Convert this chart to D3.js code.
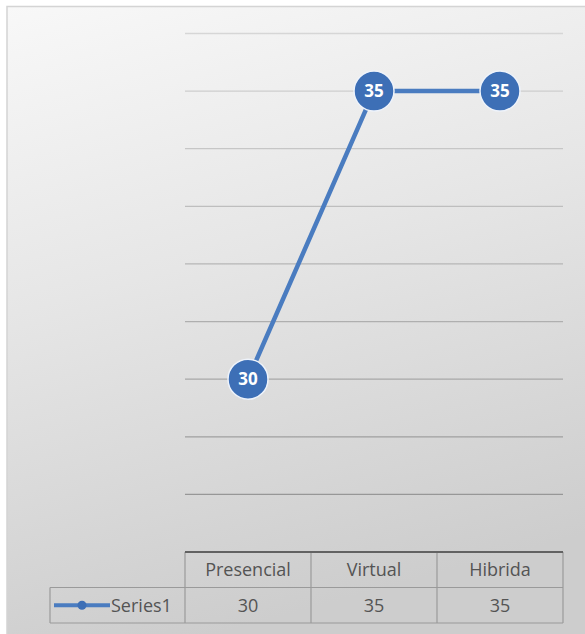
<!DOCTYPE html>
<html>
<head>
<meta charset="utf-8">
<script src="https://cdn.jsdelivr.net/npm/d3@7"></script>
<style>
  html, body { margin: 0; padding: 0; background: #ffffff; }
  svg { display: block; }
  text { font-family: "Open Sans", "Noto Sans", sans-serif; }
</style>
</head>
<body>
<svg id="chart" width="585" height="634"></svg>
<script>
// Chart data
const categories = ["Presencial", "Virtual", "Hibrida"];
const seriesName = "Series1";
const seriesValues = [30, 35, 35];
const gridValues = [28, 29, 30, 31, 32, 33, 34, 35, 36];
const valueDomain = [27, 36];

const svg = d3.select("#chart");
const W = 585, H = 634;

// Plot geometry
const plot = { left: 185, right: 563, top: 33.5, bottom: 552 };
const rowH = 35.5;
const legendLeft = 50;

const defs = svg.append("defs");
const grad = defs.append("linearGradient")
  .attr("id", "bg").attr("x1", "0").attr("y1", "0").attr("x2", "0.25").attr("y2", "1");
grad.append("stop").attr("offset", "0%").attr("stop-color", "#f8f8f8");
grad.append("stop").attr("offset", "45%").attr("stop-color", "#e6e6e6");
grad.append("stop").attr("offset", "100%").attr("stop-color", "#cdcdcd");

// Chart area with border
svg.append("rect")
  .attr("x", 7).attr("y", 6.5).attr("width", W + 10).attr("height", H + 10)
  .attr("fill", "url(#bg)").attr("stroke", "#d4d4d4").attr("stroke-width", 1.5);

const x = d3.scaleBand().domain(categories).range([plot.left, plot.right]);
const y = d3.scaleLinear().domain(valueDomain).range([plot.bottom, plot.top]);

// Horizontal gridlines, fading lighter towards the top
const gridColor = d3.scaleLinear().domain(valueDomain).range(["#8f8f8f", "#d6d6d6"]);
svg.append("g").selectAll("line").data(gridValues).join("line")
  .attr("x1", plot.left).attr("x2", plot.right)
  .attr("y1", d => y(d)).attr("y2", d => y(d))
  .attr("stroke", d => gridColor(d)).attr("stroke-width", 1.3);

// Data table under the plot
const tbl = svg.append("g").attr("stroke", "#9a9a9a").attr("stroke-width", 1.2).attr("fill", "none");
const tTop = plot.bottom, tMid = plot.bottom + rowH, tBot = plot.bottom + 2 * rowH;
tbl.append("line").attr("x1", plot.left).attr("x2", plot.right).attr("y1", tMid).attr("y2", tMid);
tbl.append("line").attr("x1", legendLeft).attr("x2", plot.right).attr("y1", tBot).attr("y2", tBot);
tbl.append("line").attr("x1", legendLeft).attr("x2", plot.left).attr("y1", tMid).attr("y2", tMid);
tbl.append("line").attr("x1", legendLeft).attr("x2", legendLeft).attr("y1", tMid).attr("y2", tBot);
const colEdges = [plot.left].concat(categories.map(c => x(c) + x.bandwidth()));
tbl.selectAll("line.v").data(colEdges).join("line").attr("class", "v")
  .attr("x1", d => d).attr("x2", d => d).attr("y1", tTop).attr("y2", tBot);
// Category axis line
svg.append("line").attr("x1", plot.left).attr("x2", plot.right)
  .attr("y1", tTop).attr("y2", tTop).attr("stroke", "#626262").attr("stroke-width", 2);

const fs = 18;
svg.append("g").selectAll("text").data(categories).join("text")
  .attr("x", d => x(d) + x.bandwidth() / 2).attr("y", tTop + rowH / 2 + 6.5)
  .attr("text-anchor", "middle").attr("font-size", fs).attr("fill", "#545454")
  .text(d => d);
svg.append("g").selectAll("text").data(seriesValues).join("text")
  .attr("x", (d, i) => x(categories[i]) + x.bandwidth() / 2).attr("y", tMid + rowH / 2 + 6.5)
  .attr("text-anchor", "middle").attr("font-size", fs).attr("fill", "#545454")
  .text(d => d);

// Legend key inside the table
const legY = tMid + rowH / 2;
svg.append("line").attr("x1", legendLeft + 4).attr("x2", legendLeft + 60)
  .attr("y1", legY).attr("y2", legY).attr("stroke", "#4a7cc0").attr("stroke-width", 4);
svg.append("circle").attr("cx", legendLeft + 32).attr("cy", legY).attr("r", 4.5).attr("fill", "#3d6fb6");
svg.append("text").attr("x", legendLeft + 61).attr("y", legY + 6.5)
  .attr("font-size", fs).attr("fill", "#545454").text(seriesName);

// Series line
const pts = seriesValues.map((v, i) => [x(categories[i]) + x.bandwidth() / 2, y(v)]);
svg.append("path").datum(pts)
  .attr("d", d3.line())
  .attr("fill", "none").attr("stroke", "#4a7cc0").attr("stroke-width", 4.5)
  .attr("stroke-linejoin", "round");

// Markers with value labels
const mk = svg.append("g").selectAll("g").data(seriesValues).join("g")
  .attr("transform", (d, i) => `translate(${pts[i][0]},${pts[i][1]})`);
mk.append("circle").attr("r", 20).attr("fill", "#3d6fb6")
  .attr("stroke", "#eef3fb").attr("stroke-width", 1.5);
mk.append("text").attr("text-anchor", "middle").attr("dy", 6)
  .attr("font-size", 17).attr("font-weight", "bold").attr("fill", "#ffffff")
  .text(d => d);
</script>
</body>
</html>
